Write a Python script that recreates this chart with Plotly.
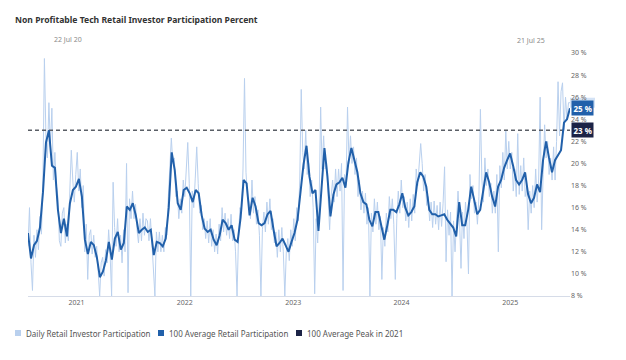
import pandas as pd
import plotly.graph_objects as go

# ---------------- data ----------------
start_date = "2020-07-22"
end_date = "2025-07-21"

avg_100d = [
    13.7, 11.4, 12.6, 13.0, 14.2, 17.4, 21.9, 23.0, 19.8, 19.6,
    15.8, 13.7, 15.0, 13.4, 16.4, 17.6, 17.9, 18.6, 17.0, 13.1,
    11.8, 12.9, 12.6, 11.5, 9.7, 10.2, 11.2, 12.9, 11.3, 13.2,
    13.8, 12.2, 12.8, 16.1, 15.8, 16.4, 15.3, 13.7, 14.0, 14.2,
    13.8, 14.0, 11.7, 12.9, 12.8, 12.5, 13.2, 16.0, 21.0, 19.4,
    16.4, 15.8, 17.6, 17.8, 17.3, 16.5, 17.6, 17.3, 15.3, 14.1,
    13.8, 14.0, 13.1, 12.6, 13.5, 14.9, 14.6, 14.0, 14.4, 13.1,
    12.9, 15.1, 18.5, 18.2, 15.3, 16.9, 16.1, 14.6, 14.4, 14.6,
    15.4, 15.7, 14.0, 12.5, 12.8, 13.2, 12.6, 12.0, 12.9, 13.7,
    14.9, 17.3, 19.9, 21.6, 18.8, 17.3, 17.6, 13.9, 18.1, 21.4,
    18.8, 15.2, 17.2, 18.1, 18.3, 18.7, 17.8, 20.1, 21.4, 20.3,
    19.2, 17.3, 16.5, 16.3, 14.9, 14.3, 15.6, 15.6, 14.2, 13.1,
    14.4, 15.8, 15.8, 15.6, 16.3, 17.3, 16.0, 15.3, 15.6, 16.1,
    18.3, 19.2, 18.8, 17.9, 15.8, 15.4, 15.4, 15.2, 15.3, 15.4,
    14.9, 14.6, 14.2, 13.4, 16.5, 14.4, 14.4, 15.8, 17.9, 16.7,
    15.4, 15.8, 17.4, 19.2, 18.3, 17.0, 16.1, 17.9, 18.5, 19.6,
    20.3, 20.9, 19.8, 18.5, 18.1, 18.5, 19.2, 17.2, 16.4, 16.9,
    18.1, 17.4, 20.3, 22.0, 20.5, 19.2, 20.3, 20.8, 21.2, 23.7,
    24.0, 25.0,
]

daily = [
    12.5, 16.0, 11.0, 8.5, 13.5, 11.5, 14.0, 12.2, 15.2, 13.6,
    18.5, 29.5, 22.5, 20.5, 25.5, 21.5, 25.0, 18.5, 21.0, 18.0,
    17.0, 13.0, 12.5, 15.5, 16.0, 12.8, 14.5, 13.0, 17.5, 21.2,
    18.5, 16.5, 19.0, 21.0, 17.5, 19.5, 16.0, 18.0, 12.0, 14.5,
    9.5, 13.5, 14.0, 11.8, 13.5, 11.5, 12.5, 10.5, 8.0, 11.0,
    11.5, 9.8, 12.2, 11.0, 14.0, 11.8, 8.0, 18.3, 14.2, 12.5,
    15.0, 12.0, 13.5, 11.0, 14.0, 12.0, 20.0, 8.3, 16.8, 15.0,
    17.5, 15.0, 16.3, 14.0, 12.8, 15.0, 13.0, 15.5, 13.5, 15.0,
    14.8, 13.0, 15.0, 12.8, 10.8, 8.0, 13.8, 12.0, 13.8, 12.0,
    13.5, 12.0, 14.2, 13.5, 17.0, 19.5, 22.3, 20.0, 20.5, 17.0,
    17.5, 15.0, 16.8, 15.5, 18.5, 17.0, 19.0, 21.9, 18.2, 8.0,
    17.5, 16.0, 18.6, 21.5, 18.2, 15.5, 16.2, 14.0, 15.0, 13.2,
    14.8, 12.8, 15.0, 12.5, 14.0, 12.0, 13.6, 11.8, 14.5, 13.0,
    16.0, 13.8, 15.5, 13.5, 15.0, 13.2, 15.4, 13.0, 14.0, 12.0,
    8.0, 13.5, 16.0, 15.5, 19.5, 27.7, 19.2, 17.0, 16.5, 15.0,
    18.5, 15.5, 17.0, 14.5, 15.8, 13.5, 8.0, 14.0, 15.6, 13.8,
    16.5, 14.5, 16.8, 14.0, 15.0, 12.8, 13.8, 11.5, 14.0, 12.0,
    14.2, 12.0, 8.0, 12.0, 13.2, 11.2, 14.0, 12.5, 15.0, 13.0,
    16.0, 14.8, 18.5, 26.7, 21.0, 19.5, 23.0, 19.0, 20.0, 17.0,
    18.5, 16.0, 8.2, 15.0, 12.8, 16.5, 25.1, 19.5, 22.5, 19.5,
    20.0, 16.5, 14.0, 17.0, 18.5, 16.5, 19.5, 17.0, 19.5, 17.5,
    20.0, 8.5, 19.0, 18.0, 25.1, 20.0, 22.5, 20.0, 21.5, 19.0,
    20.5, 17.0, 18.5, 15.8, 17.5, 15.5, 17.3, 14.5, 16.0, 8.0,
    15.5, 13.8, 16.8, 14.5, 16.5, 14.0, 15.2, 9.5, 14.2, 12.5,
    15.5, 13.8, 17.0, 15.0, 16.8, 14.5, 9.5, 15.0, 17.5, 15.5,
    18.5, 16.0, 17.0, 14.8, 16.5, 14.2, 16.8, 14.8, 17.2, 15.5,
    19.5, 18.0, 20.5, 21.8, 20.0, 17.5, 19.0, 16.2, 17.0, 14.8,
    16.5, 14.2, 16.6, 14.5, 16.2, 14.0, 16.5, 14.3, 16.4, 19.7,
    11.1, 15.8, 13.5, 15.6, 8.0, 14.8, 12.0, 15.2, 17.5, 15.0,
    10.5, 15.6, 13.2, 16.5, 14.5, 10.0, 19.0, 16.8, 18.0, 15.5,
    16.5, 14.5, 17.0, 24.9, 18.5, 16.5, 20.5, 18.0, 19.5, 17.0,
    18.2, 15.5, 17.5, 15.5, 19.0, 12.0, 19.8, 17.8, 21.0, 18.5,
    23.0, 19.5, 22.0, 19.5, 21.0, 17.5, 19.5, 17.0, 22.7, 17.2,
    19.8, 17.5, 20.5, 17.0, 18.0, 14.0, 17.5, 15.5, 18.0, 16.0,
    19.5, 16.5, 18.5, 26.0, 14.0, 19.0, 23.5, 20.5, 22.0, 19.0,
    20.5, 18.5, 21.5, 18.5, 22.0, 27.4, 22.5, 26.5, 27.3, 23.0,
    26.0, 24.0, 25.5, 25.5,
]

peak_2021 = 23.0
year_ticks = ["2021-01-01", "2022-01-01", "2023-01-01", "2024-01-01", "2025-01-01"]
year_labels = ["2021", "2022", "2023", "2024", "2025"]
y_ticks = [8, 10, 12, 14, 16, 18, 20, 22, 24, 26, 28, 30]
y_labels = [f"{v} %" for v in y_ticks]

series_names = [
    "Daily Retail Investor Participation",
    "100 Average Retail Participation",
    "100 Average Peak in 2021",
]

# ---------------- styling ----------------
C_DAILY = "#b9d0ee"
C_DAILY_LBL = "#d3e2f5"
C_AVG = "#2160aa"
C_PEAK = "#1c2346"
C_DASH = "#5a5f66"
FONT = "Noto Sans"

W, H = 626, 360
L, R, T, B = 28, 56, 53, 64
PW, PH = W - L - R, H - T - B

def px(x):
    return (x - L) / PW

def py(y):
    return (H - B - y) / PH

dates_daily = pd.date_range(start_date, end_date, periods=len(daily))
dates_avg = pd.date_range(start_date, end_date, periods=len(avg_100d))

fig = go.Figure()
fig.add_trace(go.Scatter(
    x=dates_daily, y=daily, mode="lines", name=series_names[0],
    line=dict(color=C_DAILY, width=1), showlegend=False,
))
fig.add_trace(go.Scatter(
    x=[dates_avg[0], dates_avg[-1]], y=[peak_2021, peak_2021], mode="lines",
    name=series_names[2], line=dict(color=C_DASH, width=1.5, dash="4px,3px"),
    showlegend=False,
))
fig.add_trace(go.Scatter(
    x=dates_avg, y=avg_100d, mode="lines", name=series_names[1],
    line=dict(color=C_AVG, width=2), showlegend=False,
))

annotations = []
shapes = []

# faint box for the last daily value, partly hidden behind the average label
shapes.append(dict(
    type="rect", xref="paper", yref="y", layer="below",
    x0=1.0, x1=px(595), y0=daily[-1] - 0.45, y1=daily[-1] + 0.45,
    fillcolor=C_DAILY_LBL, line=dict(width=0),
))

def value_label(val, bg, fg):
    return dict(
        x=1, xref="paper", xanchor="left", xshift=1,
        y=val, yref="y", yanchor="middle",
        text=f"<b>{val:.0f} %</b>", showarrow=False, bgcolor=bg, borderpad=1.5,
        font=dict(family=FONT, size=8, color=fg),
    )

annotations.append(value_label(avg_100d[-1], C_AVG, "white"))
annotations.append(value_label(peak_2021, C_PEAK, "white"))

annotations.append(dict(
    x=px(52), y=py(33), xref="paper", yref="paper", text="22 Jul 20",
    showarrow=False, font=dict(family=FONT, size=7, color="#8a8a8a"),
))
annotations.append(dict(
    x=px(547), y=py(34), xref="paper", yref="paper", text="21 Jul 25",
    showarrow=False, font=dict(family=FONT, size=7, color="#8a8a8a"),
))

legend_items = [
    (series_names[0], C_DAILY, 15),
    (series_names[1], C_AVG, 158),
    (series_names[2], C_PEAK, 296),
]
for name, col, x0 in legend_items:
    shapes.append(dict(
        type="rect", xref="paper", yref="paper",
        x0=px(x0), x1=px(x0 + 6), y0=py(336), y1=py(330),
        fillcolor=col, line=dict(width=0),
    ))
    annotations.append(dict(
        x=px(x0 + 9), y=py(333), xref="paper", yref="paper",
        xanchor="left", yanchor="middle", text=name, showarrow=False,
        font=dict(family=FONT, size=8, color="#555555"),
    ))

fig.update_layout(
    width=W, height=H,
    margin=dict(l=L, r=R, t=T, b=B, pad=0),
    paper_bgcolor="white", plot_bgcolor="white",
    title=dict(
        text="<b>Non Profitable Tech Retail Investor Participation Percent</b>",
        x=15 / W, xanchor="left", xref="container",
        y=1 - 20 / H, yanchor="middle", yref="container",
        font=dict(family=FONT, size=8.6, color="#333333"),
    ),
    showlegend=False,
    annotations=annotations,
    shapes=shapes,
    xaxis=dict(
        range=[dates_avg[0], dates_avg[-1]],
        tickvals=year_ticks, ticktext=year_labels,
        showgrid=False, zeroline=False,
        showline=True, linecolor="#d6dce8", linewidth=1,
        ticks="", tickfont=dict(family=FONT, size=7, color="#666666"),
    ),
    yaxis=dict(
        range=[8, 30], side="right",
        tickvals=y_ticks, ticktext=y_labels,
        showgrid=False, zeroline=False, showline=False,
        ticks="", tickfont=dict(family=FONT, size=7, color="#666666"),
    ),
)

fig.write_html(
    "out.html",
    config={"displayModeBar": False},
    post_script="document.body.style.margin='0';document.body.style.overflow='hidden';",
)
